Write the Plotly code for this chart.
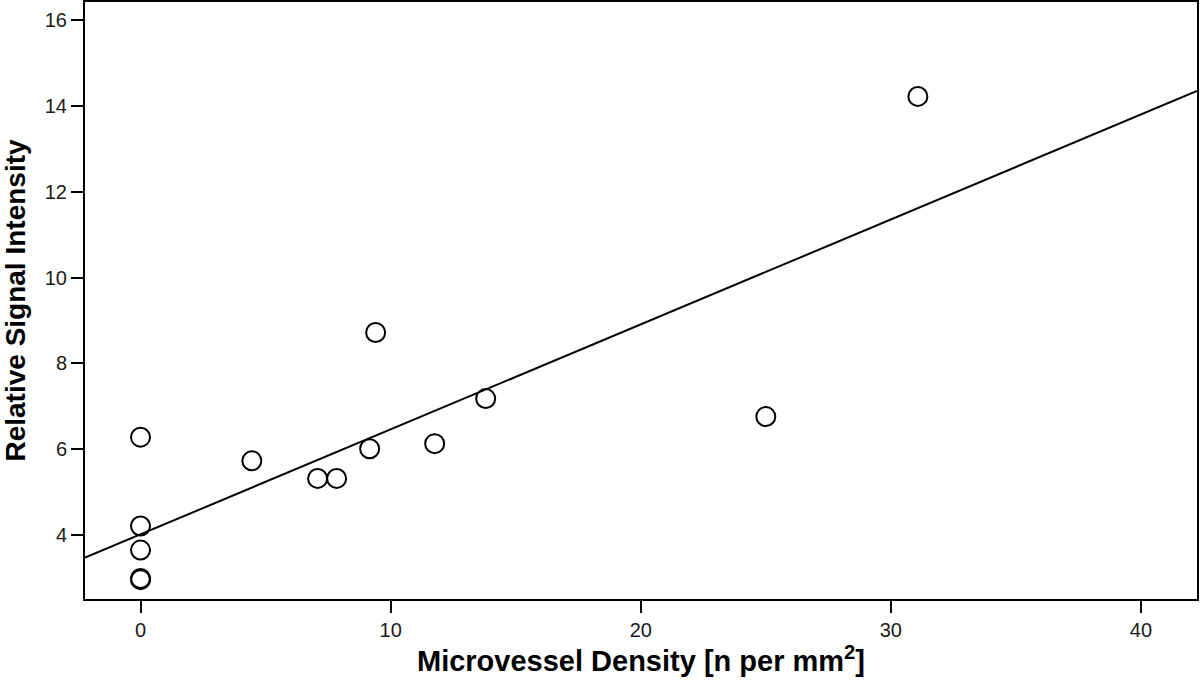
import numpy as np
import plotly.graph_objects as go

# Data
density = [0, 0, 0, 0, 0, 4.45, 7.08, 7.84, 9.16, 9.40, 11.76, 13.80, 25.00, 31.08]
signal = [6.28, 4.21, 3.65, 2.99, 2.96, 5.73, 5.32, 5.32, 6.01, 8.72, 6.13, 7.18, 6.76, 14.22]
x_ticks = [0, 10, 20, 30, 40]
y_ticks = [4, 6, 8, 10, 12, 14, 16]
x_range = [-2.22, 42.24]
y_range = [2.51, 16.42]

# Linear regression fit line
slope, intercept = np.polyfit(density, signal, 1)
fit_x = np.array(x_range)
fit_y = intercept + slope * fit_x

fig = go.Figure()
fig.add_trace(go.Scatter(
    x=fit_x, y=fit_y, mode="lines",
    line=dict(color="black", width=2), showlegend=False, hoverinfo="skip"))
fig.add_trace(go.Scatter(
    x=density, y=signal, mode="markers",
    marker=dict(symbol="circle-open", size=19, color="black",
                line=dict(color="black", width=2)),
    showlegend=False))

font_family = "Liberation Sans, Arial, sans-serif"
fig.update_layout(
    width=1200, height=690,
    margin=dict(l=85, r=3, t=2, b=91, autoexpand=False),
    paper_bgcolor="white", plot_bgcolor="white",
    font=dict(family=font_family, color="#111"),
)
fig.update_xaxes(
    range=x_range, tickvals=x_ticks, ticks="outside", ticklen=12, tickwidth=2,
    tickcolor="black", showline=True, linecolor="black", linewidth=2, mirror=True,
    showgrid=False, zeroline=False, tickfont=dict(size=20, color="#1a1a1a"),
    automargin=False,
    title=dict(text="<b>Microvessel Density [n per mm<sup>2</sup>]</b>",
               font=dict(size=29, color="black"), standoff=11),
)
fig.update_yaxes(
    range=y_range, tickvals=y_ticks, ticks="outside", ticklen=12, tickwidth=2,
    tickcolor="black", showline=True, linecolor="black", linewidth=2, mirror=True,
    showgrid=False, zeroline=False, tickfont=dict(size=20, color="#1a1a1a"),
    automargin=False,
    title=dict(text="<b>Relative Signal Intensity</b>",
               font=dict(size=28, color="black"), standoff=12),
)
fig.write_html("out.html", config={"displayModeBar": False},
               post_script="document.body.style.margin='0';document.body.style.overflow='hidden';")
